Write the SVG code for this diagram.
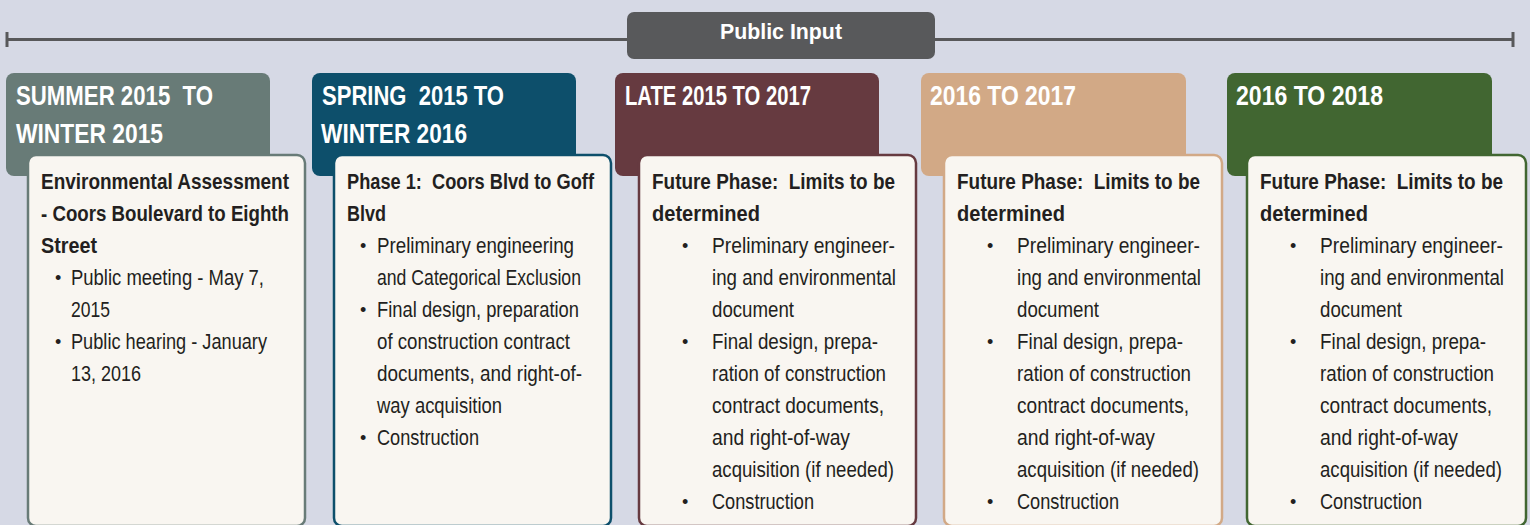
<svg xmlns="http://www.w3.org/2000/svg" width="1530" height="525" viewBox="0 0 1530 525">
<style>
text{white-space:pre}
.bg{fill:#d6d9e5}
.hd{font-family:"Liberation Sans",Arial,sans-serif;font-weight:bold;font-size:28px;fill:#ffffff}
.pi{font-family:"Liberation Sans",Arial,sans-serif;font-weight:bold;font-size:22px;fill:#ffffff}
.tt{font-family:"Liberation Sans",Arial,sans-serif;font-weight:bold;font-size:22px;fill:#231f20}
.tx{font-family:"Liberation Sans",Arial,sans-serif;font-size:22px;fill:#231f20}
.bu{font-family:"Liberation Sans",Arial,sans-serif;font-size:18px;fill:#231f20}
.body{fill:#f9f6f1;stroke-width:2.5}
.tl{stroke:#58585a;stroke-width:3;fill:none}
</style>
<rect class="bg" x="0" y="0" width="1530" height="525"/>
<g id="connectors">
<line class="tl" x1="7" y1="39.5" x2="1513" y2="39.5"/>
<line class="tl" x1="7" y1="32" x2="7" y2="47"/>
<line class="tl" x1="1513" y1="32" x2="1513" y2="47"/>
</g>
<g id="public-input">
<rect x="627" y="12" width="308" height="47" rx="7" fill="#58595b"/>
<text class="pi" x="720" y="39" textLength="122" lengthAdjust="spacingAndGlyphs">Public Input</text>
</g>
<g id="node1">
<rect x="6" y="73" width="264" height="103" rx="8" fill="#687b77"/>
<text class="hd" x="16" y="105" textLength="197" lengthAdjust="spacingAndGlyphs">SUMMER 2015  TO</text>
<text class="hd" x="16" y="143" textLength="147" lengthAdjust="spacingAndGlyphs">WINTER 2015</text>
<rect class="body" x="28" y="155" width="277" height="371" rx="8" stroke="#687b77"/>
<text class="tt" x="41" y="189" textLength="248" lengthAdjust="spacingAndGlyphs">Environmental Assessment</text>
<text class="tt" x="41" y="221" textLength="248" lengthAdjust="spacingAndGlyphs">- Coors Boulevard to Eighth</text>
<text class="tt" x="41" y="253" textLength="56" lengthAdjust="spacingAndGlyphs">Street</text>
<text class="bu" x="55" y="284">•</text>
<text class="tx" x="71" y="285" textLength="193" lengthAdjust="spacingAndGlyphs">Public meeting - May 7,</text>
<text class="tx" x="71" y="317" textLength="39" lengthAdjust="spacingAndGlyphs">2015</text>
<text class="bu" x="55" y="348">•</text>
<text class="tx" x="71" y="349" textLength="196" lengthAdjust="spacingAndGlyphs">Public hearing - January</text>
<text class="tx" x="71" y="381" textLength="70" lengthAdjust="spacingAndGlyphs">13, 2016</text>
</g>
<g id="node2">
<rect x="312" y="73" width="264" height="103" rx="8" fill="#0d4f6b"/>
<text class="hd" x="322" y="105" textLength="182" lengthAdjust="spacingAndGlyphs">SPRING  2015 TO</text>
<text class="hd" x="321" y="143" textLength="146" lengthAdjust="spacingAndGlyphs">WINTER 2016</text>
<rect class="body" x="334" y="155" width="277" height="371" rx="8" stroke="#0d4f6b"/>
<text class="tt" x="347" y="189" textLength="247" lengthAdjust="spacingAndGlyphs">Phase 1:  Coors Blvd to Goff</text>
<text class="tt" x="347" y="221" textLength="39" lengthAdjust="spacingAndGlyphs">Blvd</text>
<text class="bu" x="360" y="252">•</text>
<text class="tx" x="377" y="253" textLength="197" lengthAdjust="spacingAndGlyphs">Preliminary engineering</text>
<text class="tx" x="377" y="285" textLength="204" lengthAdjust="spacingAndGlyphs">and Categorical Exclusion</text>
<text class="bu" x="360" y="316">•</text>
<text class="tx" x="377" y="317" textLength="202" lengthAdjust="spacingAndGlyphs">Final design, preparation</text>
<text class="tx" x="377" y="349" textLength="193" lengthAdjust="spacingAndGlyphs">of construction contract</text>
<text class="tx" x="377" y="381" textLength="205" lengthAdjust="spacingAndGlyphs">documents, and right-of-</text>
<text class="tx" x="377" y="413" textLength="125" lengthAdjust="spacingAndGlyphs">way acquisition</text>
<text class="bu" x="360" y="444">•</text>
<text class="tx" x="377" y="445" textLength="102" lengthAdjust="spacingAndGlyphs">Construction</text>
</g>
<g id="node3">
<rect x="615" y="73" width="264" height="103" rx="8" fill="#663a40"/>
<text class="hd" x="625" y="105" textLength="186" lengthAdjust="spacingAndGlyphs">LATE 2015 TO 2017</text>
<rect class="body" x="639" y="155" width="277" height="371" rx="8" stroke="#663a40"/>
<text class="tt" x="652" y="189" textLength="243" lengthAdjust="spacingAndGlyphs">Future Phase:  Limits to be</text>
<text class="tt" x="652" y="221" textLength="108" lengthAdjust="spacingAndGlyphs">determined</text>
<text class="bu" x="682" y="252">•</text>
<text class="tx" x="712" y="253" textLength="183" lengthAdjust="spacingAndGlyphs">Preliminary engineer-</text>
<text class="tx" x="712" y="285" textLength="184" lengthAdjust="spacingAndGlyphs">ing and environmental</text>
<text class="tx" x="712" y="317" textLength="82" lengthAdjust="spacingAndGlyphs">document</text>
<text class="bu" x="682" y="348">•</text>
<text class="tx" x="712" y="349" textLength="166" lengthAdjust="spacingAndGlyphs">Final design, prepa-</text>
<text class="tx" x="712" y="381" textLength="174" lengthAdjust="spacingAndGlyphs">ration of construction</text>
<text class="tx" x="712" y="413" textLength="172" lengthAdjust="spacingAndGlyphs">contract documents,</text>
<text class="tx" x="712" y="445" textLength="138" lengthAdjust="spacingAndGlyphs">and right-of-way</text>
<text class="tx" x="712" y="477" textLength="182" lengthAdjust="spacingAndGlyphs">acquisition (if needed)</text>
<text class="bu" x="682" y="508">•</text>
<text class="tx" x="712" y="509" textLength="102" lengthAdjust="spacingAndGlyphs">Construction</text>
</g>
<g id="node4">
<rect x="921" y="73" width="265" height="103" rx="8" fill="#d2a986"/>
<text class="hd" x="930" y="105" textLength="146" lengthAdjust="spacingAndGlyphs">2016 TO 2017</text>
<rect class="body" x="944" y="155" width="278" height="371" rx="8" stroke="#d2a986"/>
<text class="tt" x="957" y="189" textLength="243" lengthAdjust="spacingAndGlyphs">Future Phase:  Limits to be</text>
<text class="tt" x="957" y="221" textLength="108" lengthAdjust="spacingAndGlyphs">determined</text>
<text class="bu" x="987" y="252">•</text>
<text class="tx" x="1017" y="253" textLength="183" lengthAdjust="spacingAndGlyphs">Preliminary engineer-</text>
<text class="tx" x="1017" y="285" textLength="184" lengthAdjust="spacingAndGlyphs">ing and environmental</text>
<text class="tx" x="1017" y="317" textLength="82" lengthAdjust="spacingAndGlyphs">document</text>
<text class="bu" x="987" y="348">•</text>
<text class="tx" x="1017" y="349" textLength="166" lengthAdjust="spacingAndGlyphs">Final design, prepa-</text>
<text class="tx" x="1017" y="381" textLength="174" lengthAdjust="spacingAndGlyphs">ration of construction</text>
<text class="tx" x="1017" y="413" textLength="172" lengthAdjust="spacingAndGlyphs">contract documents,</text>
<text class="tx" x="1017" y="445" textLength="138" lengthAdjust="spacingAndGlyphs">and right-of-way</text>
<text class="tx" x="1017" y="477" textLength="182" lengthAdjust="spacingAndGlyphs">acquisition (if needed)</text>
<text class="bu" x="987" y="508">•</text>
<text class="tx" x="1017" y="509" textLength="102" lengthAdjust="spacingAndGlyphs">Construction</text>
</g>
<g id="node5">
<rect x="1227" y="73" width="265" height="103" rx="8" fill="#416631"/>
<text class="hd" x="1236" y="105" textLength="147" lengthAdjust="spacingAndGlyphs">2016 TO 2018</text>
<rect class="body" x="1247" y="155" width="279" height="371" rx="8" stroke="#416631"/>
<text class="tt" x="1260" y="189" textLength="243" lengthAdjust="spacingAndGlyphs">Future Phase:  Limits to be</text>
<text class="tt" x="1260" y="221" textLength="108" lengthAdjust="spacingAndGlyphs">determined</text>
<text class="bu" x="1290" y="252">•</text>
<text class="tx" x="1320" y="253" textLength="183" lengthAdjust="spacingAndGlyphs">Preliminary engineer-</text>
<text class="tx" x="1320" y="285" textLength="184" lengthAdjust="spacingAndGlyphs">ing and environmental</text>
<text class="tx" x="1320" y="317" textLength="82" lengthAdjust="spacingAndGlyphs">document</text>
<text class="bu" x="1290" y="348">•</text>
<text class="tx" x="1320" y="349" textLength="166" lengthAdjust="spacingAndGlyphs">Final design, prepa-</text>
<text class="tx" x="1320" y="381" textLength="174" lengthAdjust="spacingAndGlyphs">ration of construction</text>
<text class="tx" x="1320" y="413" textLength="172" lengthAdjust="spacingAndGlyphs">contract documents,</text>
<text class="tx" x="1320" y="445" textLength="138" lengthAdjust="spacingAndGlyphs">and right-of-way</text>
<text class="tx" x="1320" y="477" textLength="182" lengthAdjust="spacingAndGlyphs">acquisition (if needed)</text>
<text class="bu" x="1290" y="508">•</text>
<text class="tx" x="1320" y="509" textLength="102" lengthAdjust="spacingAndGlyphs">Construction</text>
</g>
</svg>
